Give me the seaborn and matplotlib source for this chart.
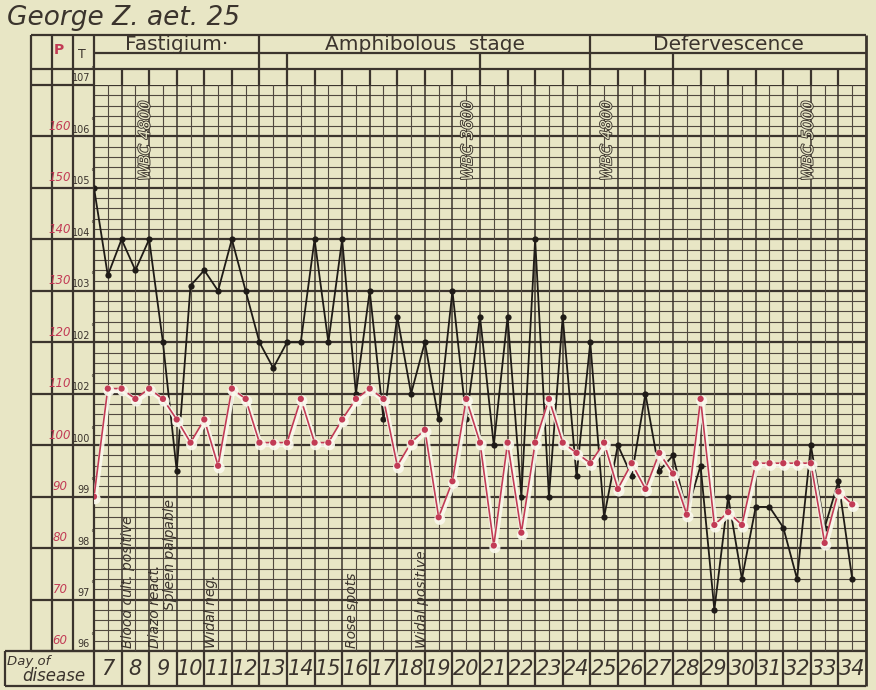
import numpy as np
import matplotlib.pyplot as plt
import matplotlib.patheffects as pe
import matplotlib.transforms as mtransforms
import seaborn as sns

# two readings a day (morning / evening), day 7 to day 34
days = list(range(7, 35))
reading_day = np.repeat(days, 2) + np.tile([0.0, 0.5], len(days))

temperature = [
    105.0, 103.3, 104.0, 103.4, 104.0, 102.0, 99.5, 103.1,
    103.4, 103.0, 104.0, 103.0, 102.0, 101.5, 102.0, 102.0,
    104.0, 102.0, 104.0, 101.0, 103.0, 100.5, 102.5, 101.0,
    102.0, 100.5, 103.0, 100.5, 102.5, 100.0, 102.5, 99.0,
    104.0, 99.0, 102.5, 99.4, 102.0, 98.6, 100.0, 99.4,
    101.0, 99.5, 99.8, 98.7, 99.6, 96.8, 99.0, 97.4,
    98.8, 98.8, 98.4, 97.4, 100.0, 98.4, 99.3, 97.4,
]
pulse = [
    90, 111, 111, 109, 111, 109, 105, 100.5,
    105, 96, 111, 109, 100.5, 100.5, 100.5, 109,
    100.5, 100.5, 105, 109, 111, 109, 96, 100.5,
    103, 86, 93, 109, 100.5, 80.5, 100.5, 83,
    100.5, 109, 100.5, 98.5, 96.5, 100.5, 91.5, 96.5,
    91.5, 98.5, 94.5, 86.5, 109, 84.5, 87, 84.5,
    96.5, 96.5, 96.5, 96.5, 96.5, 81, 91, 88.5,
]

temp_levels = [107, 106, 105, 104, 103, 102, 101, 100, 99, 98, 97, 96]
temp_labels = ["107", "106", "105", "104", "103", "102", "102", "100", "99", "98", "97", "96"]
pulse_labels = ["", "160", "150", "140", "130", "120", "110", "100", "90", "80", "70", "60"]

stages = ["Fastigium\u00b7", "Amphibolous  stage", "Defervescence"]
stage_start = [7, 13, 25]
stage_end = [13, 25, 35]
subrow_breaks = [14, 21, 28]

wbc_notes = ["WBC 4800", "WBC 3600", "WBC 4800", "WBC 5000"]
wbc_day = [8.85, 20.55, 25.6, 32.9]
event_notes = ["Blood cult. positive", "Diazo react.", "Spleen palpable",
               "Widal neg.", "Rose spots", "Widal positive"]
event_day = [8.25, 9.2, 9.75, 11.25, 16.35, 18.9]
event_base = [96.05, 96.05, 96.8, 96.05, 96.05, 96.05]

PAPER = "#e8e6c5"
INK = "#3b342d"
FINE = "#51493f"
RED = "#c23b55"

W, H = 876, 690
L, R, T, B = 94, 866, 85, 651   # chart area in pixels

fig = plt.figure(figsize=(W / 100, H / 100), dpi=100, facecolor=PAPER)
bg = fig.add_axes([0, 0, 1, 1], zorder=0)
bg.autoscale(False)
bg.set_xlim(0, W)
bg.set_ylim(H, 0)
bg.axis("off")

ax = fig.add_axes([L / W, (H - B) / H, (R - L) / W, (B - T) / H], zorder=1)
ax.set_xlim(7, 35)
ax.set_ylim(96, 107)
ax.patch.set_alpha(0)
for s in ax.spines.values():
    s.set_visible(False)
ax.set_xticks([])
ax.set_yticks([])

# chart paper grid: 0.2 degree rows, half-day columns
for v in np.arange(96, 107.01, 0.2):
    major = abs(v - round(v)) < 1e-6
    ax.axhline(v, color=INK if major else FINE, lw=1.6 if major else 0.8, zorder=1)
for d in np.arange(7, 35.01, 0.5):
    ax.axvline(d, color=INK if d % 1 == 0 else FINE, lw=1.1 if d % 1 == 0 else 0.8, zorder=1)

px_deg = mtransforms.blended_transform_factory(bg.transData, ax.transData)
day_px = mtransforms.blended_transform_factory(ax.transData, bg.transData)

# table frame
lk = dict(color=INK, lw=1.6)
bg.hlines(temp_levels, 31, L, transform=px_deg, **lk)
bg.hlines([35, 69], 31, R, **lk)
bg.hlines(53, L, R, **lk)
bg.hlines([B, 686], 5, R, **lk)
bg.vlines([31, 52, 73], 35, B, **lk)
bg.vlines(L, 35, 686, **lk)
bg.vlines(5, B, 686, **lk)
bg.vlines(R, 35, 686, color=INK, lw=2)
bg.vlines(days[1:], 69, T, transform=day_px, **lk)
bg.vlines(days[1:], B, 686, transform=day_px, **lk)
bg.vlines(stage_start[1:], 35, 69, transform=day_px, **lk)
bg.vlines(subrow_breaks, 53, 69, transform=day_px, **lk)

# left scales
bg.text(59, 50, "P", color=RED, fontsize=10, fontweight="bold", ha="center", va="center")
bg.text(82, 55, "T", color=INK, fontsize=9, ha="center", va="center")
for lev, tl, pl in zip(temp_levels, temp_labels, pulse_labels):
    bg.text(90, lev + 0.03, tl, transform=px_deg, fontsize=7, color=INK,
            ha="right", va="bottom")
    bg.text(90.5, lev + 0.2, "\u00b0", transform=px_deg, fontsize=6.5, color=INK,
            ha="left", va="bottom")
    bg.text(60, lev + 0.07, pl, transform=px_deg, fontsize=8.5, style="italic",
            color=RED, ha="center", va="bottom")

# header
bg.text(7, 18, "George Z. aet. 25", fontsize=19, style="italic", color=INK, va="center")
for name, s, e in zip(stages, stage_start, stage_end):
    bg.text((s + e) / 2, 44, name, transform=day_px, fontsize=14.5, color=INK,
            ha="center", va="center")

# day row
bg.text(7, 661, "Day of", fontsize=9.5, style="italic", color=INK, va="center")
bg.text(22, 676, "disease", fontsize=12, style="italic", color=INK, va="center")
for d in days:
    bg.text(d + 0.5, 669, str(d), transform=day_px, fontsize=15, style="italic",
            color=INK, ha="center", va="center")

# notes written on the chart
for txt, d in zip(wbc_notes, wbc_day):
    ax.text(d, 106.7, txt, rotation=90, fontsize=11, style="italic", color=PAPER,
            ha="center", va="top", zorder=2,
            path_effects=[pe.withStroke(linewidth=1.3, foreground=INK)])
for txt, d, b in zip(event_notes, event_day, event_base):
    ax.text(d, b, txt, rotation=90, fontsize=10, style="italic", color=INK,
            ha="center", va="bottom", zorder=2)

# temperature (black) and pulse (red)
sns.lineplot(x=reading_day, y=temperature, ax=ax, color="#1f1b17", lw=1.3,
             marker="o", markersize=4.5, markeredgewidth=0, zorder=4)
ax.set_xlabel("")
ax.set_ylabel("")

ax2 = ax.twinx()
ax2.set_ylim(60, 170)
sns.lineplot(x=reading_day, y=pulse, ax=ax2, color=RED, lw=1.2, marker="o",
             markersize=4.5, markeredgewidth=0, zorder=4,
             path_effects=[pe.SimpleLineShadow(offset=(0.8, -1.5), shadow_color="#fbfaef",
                                               alpha=0.9, linewidth=3.5), pe.Normal()])
ax2.set_xlim(7, 35)
ax2.set_ylabel("")
ax2.set_yticks([])
for s in ax2.spines.values():
    s.set_visible(False)

fig.savefig("out.png", dpi=100, facecolor=PAPER)
